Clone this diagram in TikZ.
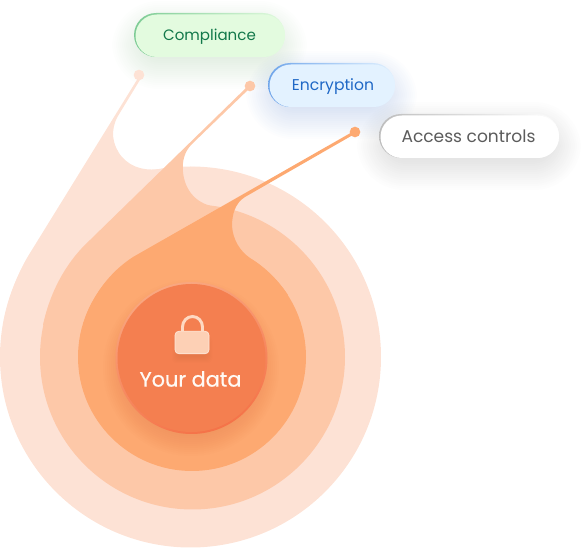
\documentclass[tikz,border=0pt]{standalone}
\usepackage{fontspec}
\setmainfont{Poppins}
\usetikzlibrary{calc}
\definecolor{ringa}{HTML}{FDE2D5}
\definecolor{ringb}{HTML}{FDC8A8}
\definecolor{ringc}{HTML}{FDA971}
\definecolor{corefill}{HTML}{F47F50}
\definecolor{greenfill}{HTML}{E3FBDF}
\definecolor{greenedge}{HTML}{7CCB94}
\definecolor{greentext}{HTML}{12784A}
\definecolor{bluefill}{HTML}{E3F2FF}
\definecolor{blueedge}{HTML}{6FA5EA}
\definecolor{bluetext}{HTML}{1F68C6}
\definecolor{greyedge}{HTML}{BDBDBD}
\definecolor{greytext}{HTML}{5C5C5C}
\definecolor{greenshadow}{HTML}{6FA86F}
\definecolor{blueshadow}{HTML}{3F6FC4}
\definecolor{greyshadow}{HTML}{707070}
\newcommand{\softshadow}[6]{% x1 y1 x2 y2 colour radius
  \foreach \k in {0,...,15}{
    \fill[#5,opacity=0.012,rounded corners={#6+\k*1.4pt}]
      ($(#1+8-\k*2,#2+8-\k*2+10)$) rectangle ($(#3-8+\k*2,#4-8+\k*2+10)$);
  }}
\tikzset{
  pill/.style={minimum height=33pt,inner sep=0pt,rounded corners=16.5pt},
  pilltext/.style={inner sep=0pt},
  tipdot/.style={circle,inner sep=0pt,minimum size=8pt},
}
\begin{document}
\begin{tikzpicture}[x=0.75pt,y=-0.75pt]
\useasboundingbox (0,0) rectangle (587,549);
% pill shadows
\softshadow{134}{13}{285}{57}{greenshadow}{14pt}
\softshadow{268}{63}{395}{107}{blueshadow}{14pt}
\softshadow{379}{114}{559}{158}{greyshadow}{14pt}
% rings
\fill[ringa] (190.5,357) circle [radius=190.5];
\fill[ringa] (3,325) .. controls (8,298) and (18,272) .. (30,253)
  -- (137.5,79) -- (140.5,79) -- (118,116)
  .. controls (110,130) and (112,145) .. (122,157)
  .. controls (132,168) and (146,172) .. (165,168)
  .. controls (172,167) and (182,167) .. (195,167) -- (191,357) -- cycle;
\fill[ringb] (192.5,357) circle [radius=152.5];
\fill[ringb] (43,325) .. controls (50,292) and (66,262) .. (90,240)
  -- (249,85) -- (251,87) -- (192,144)
  .. controls (184,152) and (182,162) .. (183,172)
  .. controls (185,192) and (198,205) .. (217,207) -- (192,357) -- cycle;
\fill[ringc] (192,357) circle [radius=114];
\fill[ringc] (83,325) .. controls (92,295) and (110,272) .. (133,257)
  -- (354,131) -- (355.5,133.5) -- (245,197)
  .. controls (235,203) and (232,215) .. (232,226)
  .. controls (233,240) and (240,251) .. (250,258)
  .. controls (265,267) and (278,280) .. (288,295) -- (192,357) -- cycle;
\node[tipdot,fill=ringa] (tipa) at (139,75) {};
\node[tipdot,fill=ringb] (tipb) at (250,86) {};
\node[tipdot,fill=ringc] (tipc) at (355,132) {};
% centre disc
\begin{scope}
\clip (192,357) circle [radius=114];
\foreach \k in {0,...,11}{
  \fill[corefill!70!brown,opacity=0.035] (191,368) circle [radius=66+\k*2];
}
\end{scope}
\node[circle,draw=none,minimum size=114pt,inner sep=0pt,top color=corefill!45!ringb,bottom color=corefill!90!red,shading angle=20] (core) at (191.5,358) {};
\fill[corefill] (191.5,358) circle [radius=74];
% padlock
\foreach \k in {0,...,6}{
  \fill[corefill!70!black,opacity=0.025,rounded corners=3pt] (178-\k,336-\k+6) rectangle (206+\k,351+\k+6);
}
\draw[draw=ringb!70!white,line width=2.2pt] (182.5,334) -- (182.5,327) arc[start angle=180,end angle=0,x radius=10,y radius=-10.5] -- (202.5,334);
\node[rounded corners=3pt,minimum width=25.5pt,minimum height=17pt,inner sep=0pt,fill=ringb!85!white,draw=ringb!40!white,line width=0.5pt] (lock) at (192,342.5) {};
\node[text=white!96!orange,inner sep=0pt,font=\fontsize{15.6}{18}\selectfont\addfontfeature{FakeBold=0.7}] (yourdata) at (190.5,379) {Your data};
% pills
\node[pill,minimum width=113.2pt,left color=greenedge,right color=greenfill] (compliancebox) at (209.5,35) {};
\fill[rounded corners=16pt,fill=greenfill] (135.5,14.5) rectangle (285,57);
\node[pilltext,text=greentext,font=\fontsize{11.3}{13}\selectfont] (compliance) at (209.5,37) {Compliance};
\node[pill,minimum width=95.2pt,left color=blueedge,right color=bluefill] (encryptionbox) at (331.5,85) {};
\fill[rounded corners=16pt,fill=bluefill] (269.5,64.5) rectangle (395,107);
\node[pilltext,text=bluetext,font=\fontsize{11.7}{13}\selectfont] (encryption) at (333,87) {Encryption};
\node[pill,minimum width=135pt,left color=greyedge,right color=white] (accessbox) at (469,136) {};
\fill[rounded corners=16pt,fill=white] (380.5,115.5) rectangle (559,158);
\node[pilltext,text=greytext,font=\fontsize{12.8}{15}\selectfont] (access) at (468.5,136.5) {Access controls};
\end{tikzpicture}
\end{document}
